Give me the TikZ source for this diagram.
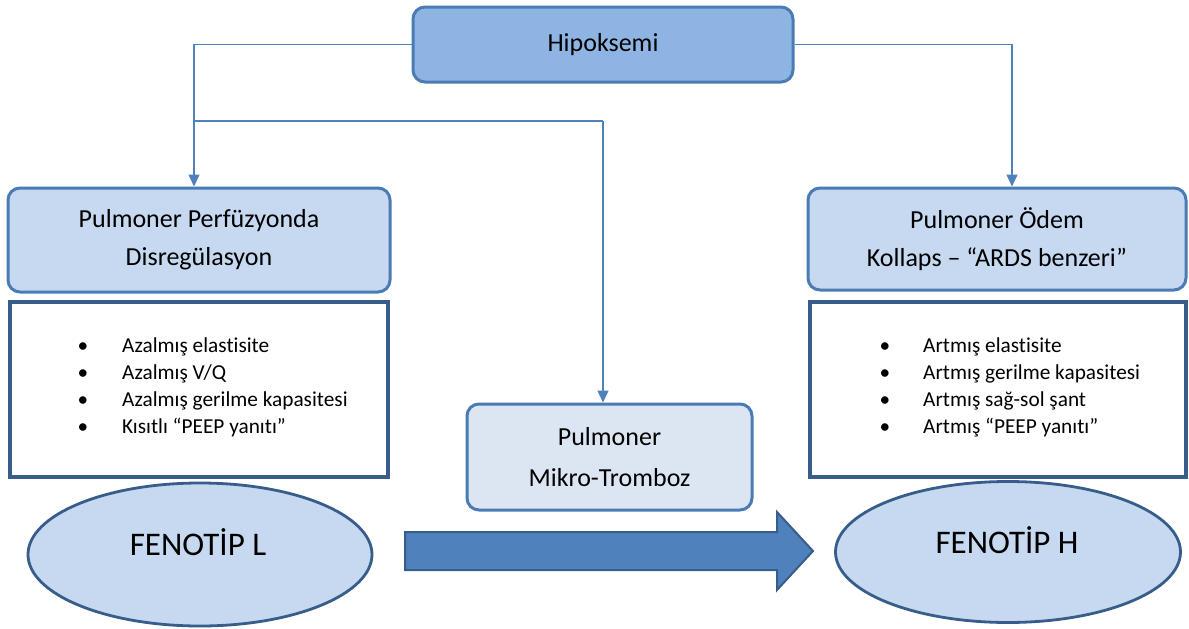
\documentclass[tikz,border=0pt]{standalone}
\usepackage{fontspec}
\setmainfont{Carlito}[Ligatures=CommonOff]
\usetikzlibrary{arrows.meta,shapes.geometric}
\definecolor{hipfill}{HTML}{8EB4E3}
\definecolor{boxfill}{HTML}{C6D9F1}
\definecolor{mikrofill}{HTML}{DCE6F2}
\definecolor{boxline}{HTML}{4A7BB5}
\definecolor{darkline}{HTML}{385D8A}
\definecolor{connline}{HTML}{4F81BD}
\definecolor{arrowfill}{HTML}{4F81BD}
\tikzset{
  hdr/.style={draw=boxline, line width=3pt, rounded corners=12pt, align=center, inner sep=0pt},
  listbox/.style={draw=darkline, line width=3.2pt, fill=white, inner sep=0pt},
  fen/.style={ellipse, draw=darkline, line width=2.8pt, fill=boxfill, inner sep=0pt},
  conn/.style={draw=connline, line width=1.5pt, -{Triangle[length=12pt,width=11pt]}},
  plainconn/.style={draw=connline, line width=1.5pt},
  bul/.style={anchor=base, inner sep=0pt},
  itm/.style={anchor=base west, inner sep=0pt},
  hfont/.style={font=\fontsize{26}{38}\selectfont},
  bfont/.style={font=\fontsize{21.3}{25}\selectfont},
  ffont/.style={font=\fontsize{33}{38}\selectfont},
}
\begin{document}
\begin{tikzpicture}[x=1pt,y=-1pt]
\useasboundingbox (0,0) rectangle (1189,629);
% header nodes
\node[hdr, fill=hipfill, minimum width=380pt, minimum height=75pt, hfont] (hip) at (603,44.5) {Hipoksemi};
\node[hdr, fill=boxfill, minimum width=382pt, minimum height=104pt, hfont] (left) at (199,240) {Pulmoner Perfüzyonda\\Disregülasyon};
\node[hdr, fill=boxfill, minimum width=378pt, minimum height=102pt, hfont] (right) at (997,239) {Pulmoner Ödem\\Kollaps – “ARDS benzeri”};
\node[hdr, fill=mikrofill, minimum width=285pt, minimum height=106pt, font=\fontsize{26}{41}\selectfont] (mikro) at (609.5,457) {Pulmoner\\Mikro-Tromboz};
% list boxes
\node[listbox, minimum width=378pt, minimum height=175pt] (llist) at (199,389.5) {};
\node[listbox, minimum width=376pt, minimum height=175pt] (rlist) at (998,389.5) {};
% left items
\foreach \t [count=\i] in {Azalmış elastisite, Azalmış V/Q, Azalmış gerilme kapasitesi, Kısıtlı “PEEP yanıtı”}{
  \node[bul, bfont] (lb\i) at (83,{345+27.3*(\i-1)+7}) {•};
  \node[itm, bfont] (lt\i) at (122,{345+27.3*(\i-1)+7}) {\t};
}
% right items
\foreach \t [count=\i] in {Artmış elastisite, Artmış gerilme kapasitesi, Artmış sağ-sol şant, Artmış “PEEP yanıtı”}{
  \node[bul, bfont] (rb\i) at (885,{345+27.3*(\i-1)+7}) {•};
  \node[itm, bfont] (rt\i) at (923,{345+27.3*(\i-1)+7}) {\t};
}
% ellipses
\node[fen, minimum width=344pt, minimum height=143pt] (fenL) at (200,554.5) {};
\node[ffont, inner sep=0pt] (fenLt) at (198,542) {FENOTİP L};
\node[fen, minimum width=345pt, minimum height=141pt] (fenH) at (1008,552) {};
\node[ffont, inner sep=0pt] (fenHt) at (1007,540) {FENOTİP H};
% connectors
\coordinate (br) at (194,121);
\coordinate (brm) at (603,121);
\draw[conn] (hip.west) -| ([xshift=-5pt]left.north);
\draw[plainconn] (br) -- (brm);
\draw[conn] (brm) -- ([xshift=-6.5pt]mikro.north);
\draw[conn] (hip.east) -| ([xshift=15pt]right.north);
% big arrow
\draw[draw=darkline, line width=2pt, fill=arrowfill] (405,532) -- (777,532) -- (777,512) -- (813,551) -- (777,590) -- (777,570) -- (405,570) -- cycle;
\end{tikzpicture}
\end{document}
